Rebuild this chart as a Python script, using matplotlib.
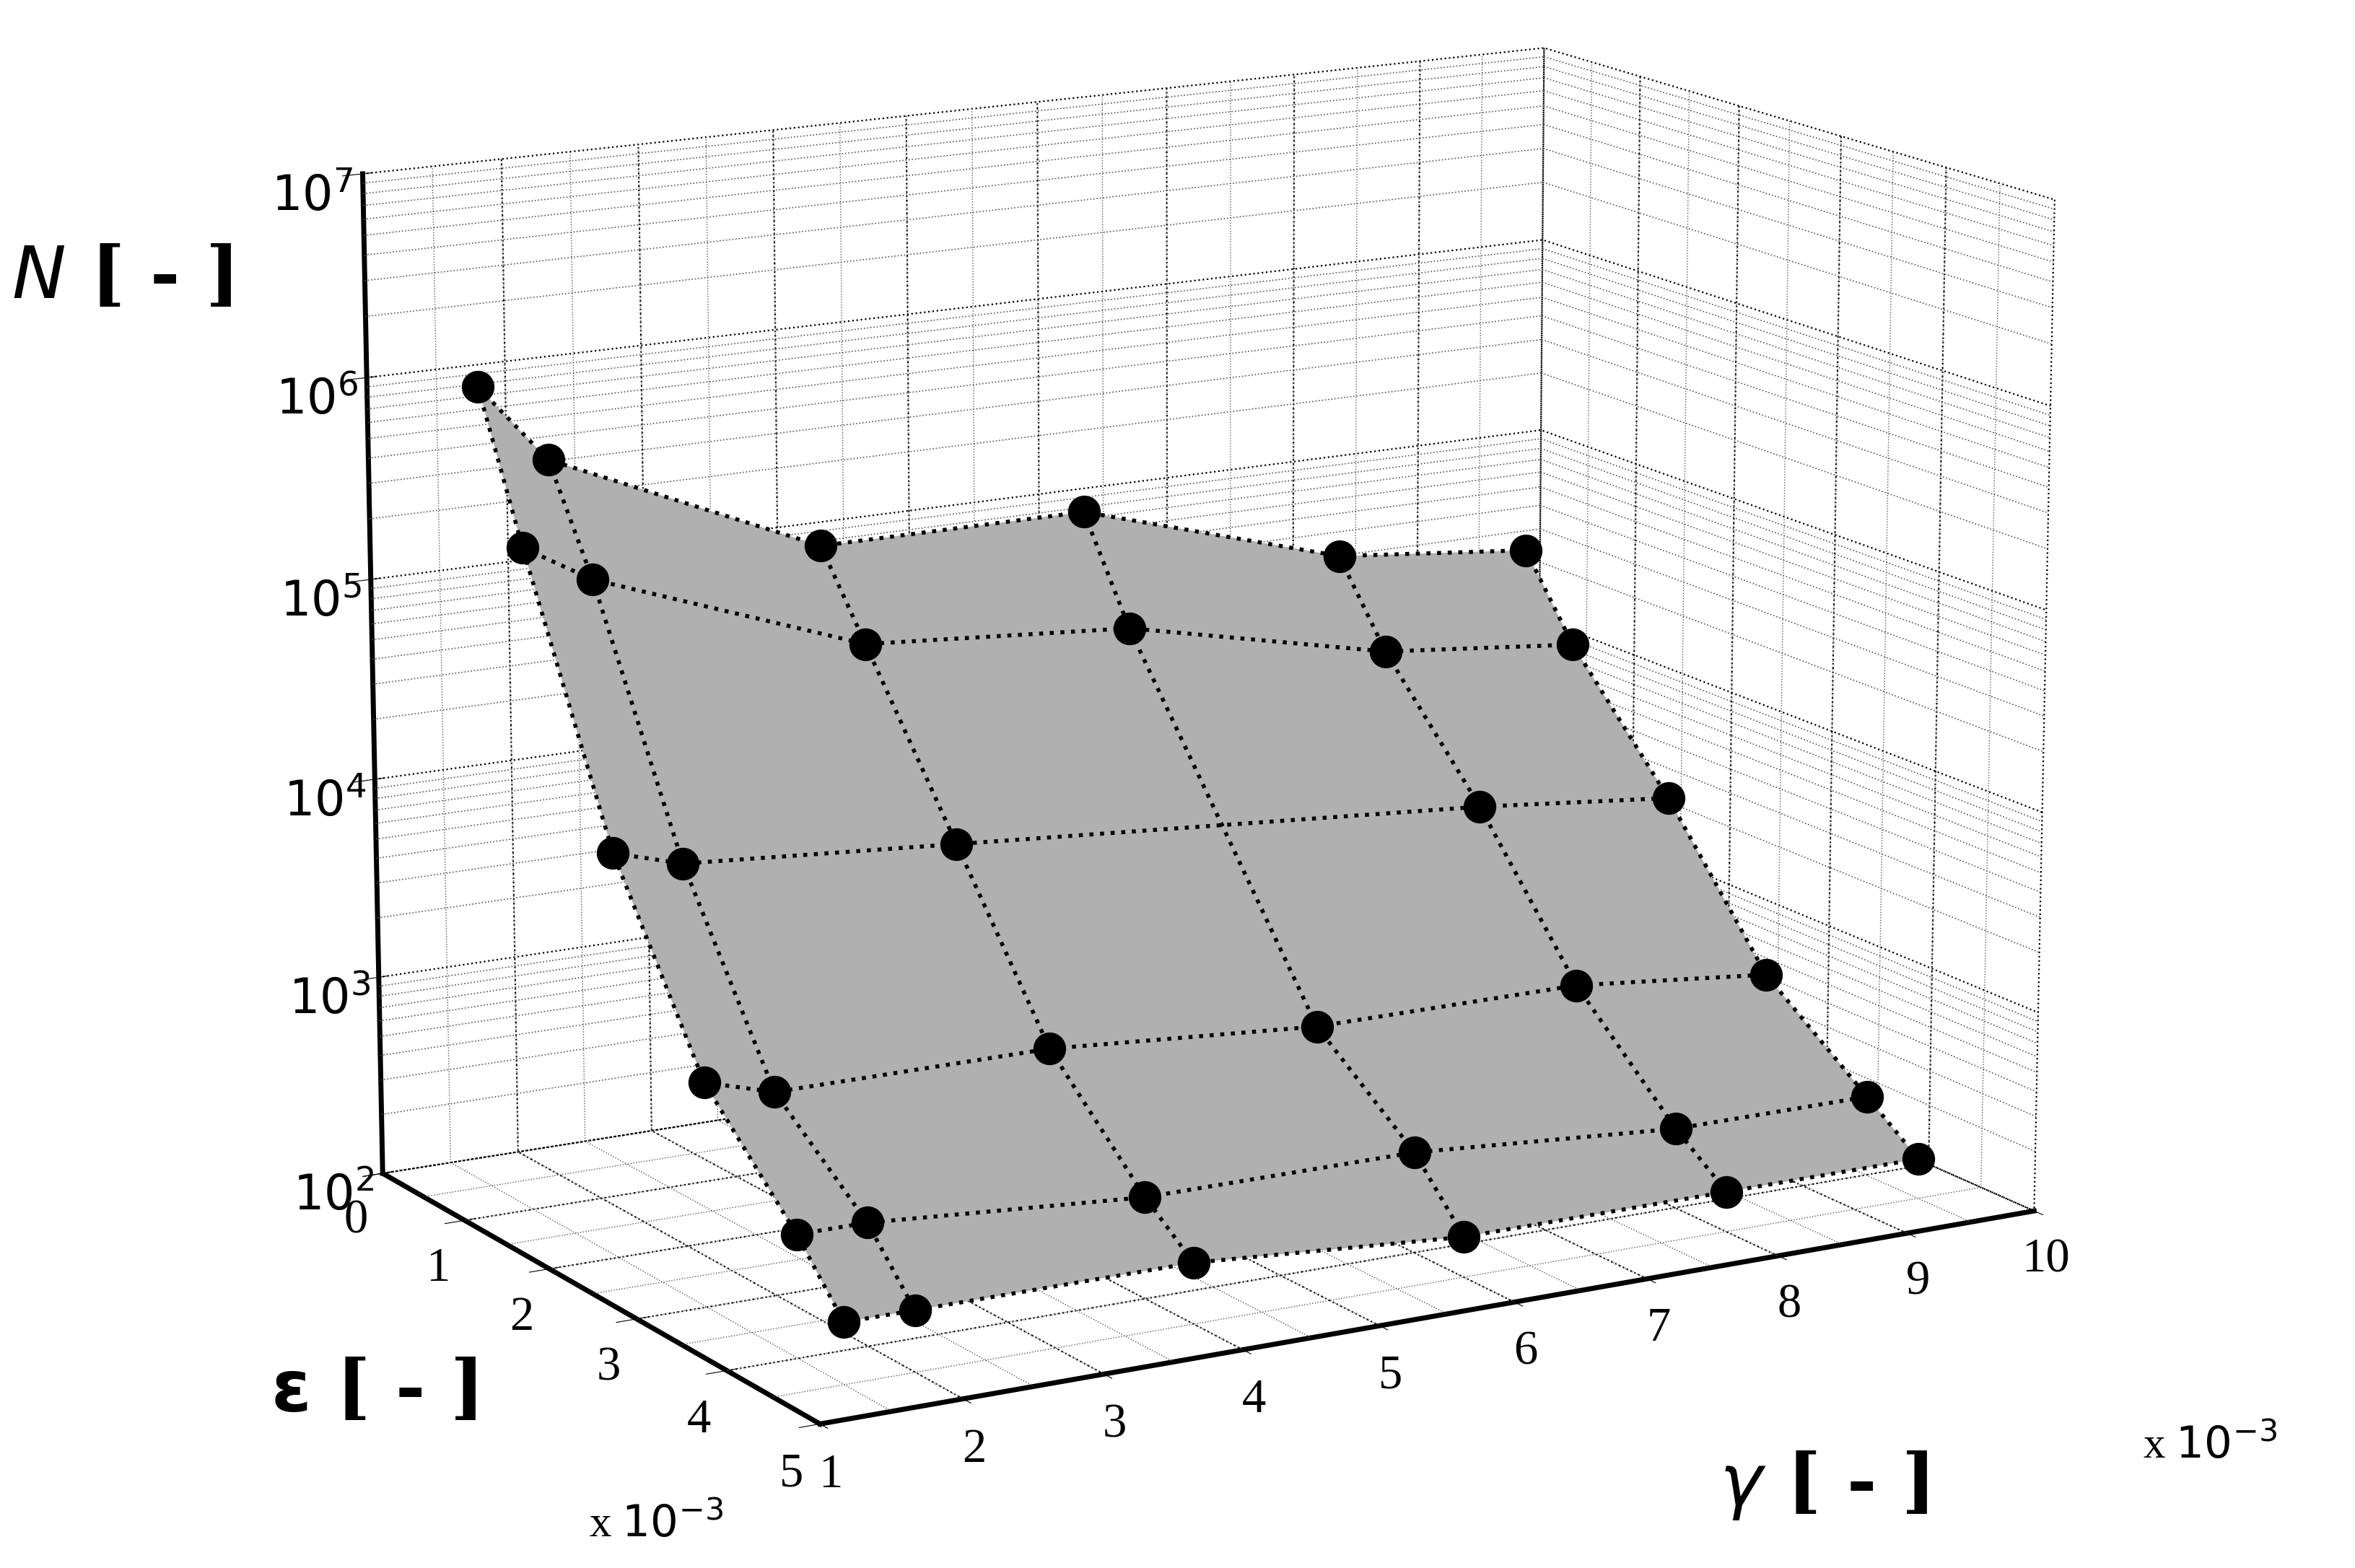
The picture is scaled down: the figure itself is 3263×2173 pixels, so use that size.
import numpy as np
import matplotlib
matplotlib.use("Agg")
import matplotlib.pyplot as plt

gamma = np.array([1.5, 2.0, 4.0, 6.0, 8.0, 9.5])      # x 10^-3
eps = np.array([0.5, 1.0, 2.0, 3.0, 4.0, 4.5])          # x 10^-3
logN = np.array([
    [6.0, 5.6, 5.0, 5.0, 4.6, 4.5],
    [5.3, 5.1, 4.6, 4.5, 4.2, 4.1],
    [4.0, 3.9, 3.8, 3.7, 3.6, 3.5],
    [3.1, 3.0, 3.0, 2.9, 2.9, 2.8],
    [2.6, 2.6, 2.5, 2.5, 2.4, 2.4],
    [2.3, 2.3, 2.3, 2.2, 2.2, 2.2],
])
# marker missing at eps=2, gamma=6 in the original
show_marker = np.ones_like(logN, dtype=bool)
show_marker[2, 3] = False

G, E = np.meshgrid(gamma, eps)
serif = "Liberation Serif"

fig = plt.figure(figsize=(32.63, 21.73), dpi=100)
ax = fig.add_axes([-0.055, -0.07, 1.11, 1.22], projection="3d")
ax.computed_zorder = False
ax.view_init(elev=14, azim=-120)
ax.set_box_aspect((1.6, 1.1, 1.2), zoom=1.0)

# dense minor grid on back walls and floor (log decades on z)
minor_z = [np.log10(k) + n for n in range(2, 7) for k in range(2, 10)]
for zz in minor_z:
    ax.plot([1, 10], [0, 0], [zz, zz], ":", color="#555555", lw=1.2, zorder=1)
    ax.plot([10, 10], [0, 5], [zz, zz], ":", color="#555555", lw=1.2, zorder=1)
for xx in np.arange(1.5, 10, 0.5):
    ax.plot([xx, xx], [0, 0], [2, 7], ":", color="#555555", lw=1.0, zorder=1)
    ax.plot([xx, xx], [0, 5], [2, 2], ":", color="#555555", lw=1.0, zorder=1)
for yy in np.arange(0.5, 5, 0.5):
    ax.plot([10, 10], [yy, yy], [2, 7], ":", color="#555555", lw=1.0, zorder=1)
    ax.plot([1, 10], [yy, yy], [2, 2], ":", color="#555555", lw=1.0, zorder=1)

ax.plot_surface(G, E, logN, color="#b0b0b0", shade=False, linewidth=0, alpha=1.0, zorder=2)
for i in range(len(eps)):
    ax.plot(gamma, np.full_like(gamma, eps[i]), logN[i], ":", color="black", lw=4, zorder=3)
for j in range(len(gamma)):
    ax.plot(np.full_like(eps, gamma[j]), eps, logN[:, j], ":", color="black", lw=4, zorder=3)
ax.scatter(G[show_marker], E[show_marker], logN[show_marker], s=1000, color="black",
           depthshade=False, zorder=4)

ax.set_xlim(1, 10)
ax.set_ylim(5, 0)
ax.set_zlim(2, 7)
ax.set_xticks(range(1, 11))
ax.set_yticks(range(0, 6))
ax.set_zticks(range(2, 8))
ax.set_zticklabels([f"$10^{k}$" for k in range(2, 8)])
ax.tick_params(labelsize=48)
ax.tick_params(axis="z", pad=22)
ax.tick_params(axis="x", pad=14)
ax.tick_params(axis="y", pad=14)
for lab in ax.get_xticklabels() + ax.get_yticklabels() + ax.get_zticklabels():
    lab.set_family(serif)

for a in (ax.xaxis, ax.yaxis, ax.zaxis):
    a.set_pane_color((1, 1, 1, 0))
    a._axinfo["grid"]["linestyle"] = ":"
    a._axinfo["grid"]["color"] = "black"
    a._axinfo["grid"]["linewidth"] = 1.6
    a.line.set_linewidth(5)

fig.text(0.005, 0.81, r"$\mathbf{\mathit{N}}$ [ - ]", fontsize=72, fontweight="bold", family="DejaVu Serif")
fig.text(0.115, 0.10, r"$\mathbf{\varepsilon}$ [ - ]", fontsize=72, fontweight="bold", family="DejaVu Serif")
fig.text(0.73, 0.04, r"$\mathit{\gamma}$ [ - ]", fontsize=72, fontweight="bold", family="DejaVu Serif")
fig.text(0.25, 0.02, r"x $10^{-3}$", fontsize=44, family=serif)
fig.text(0.91, 0.07, r"x $10^{-3}$", fontsize=44, family=serif)

fig.savefig("out.png", dpi=100)
